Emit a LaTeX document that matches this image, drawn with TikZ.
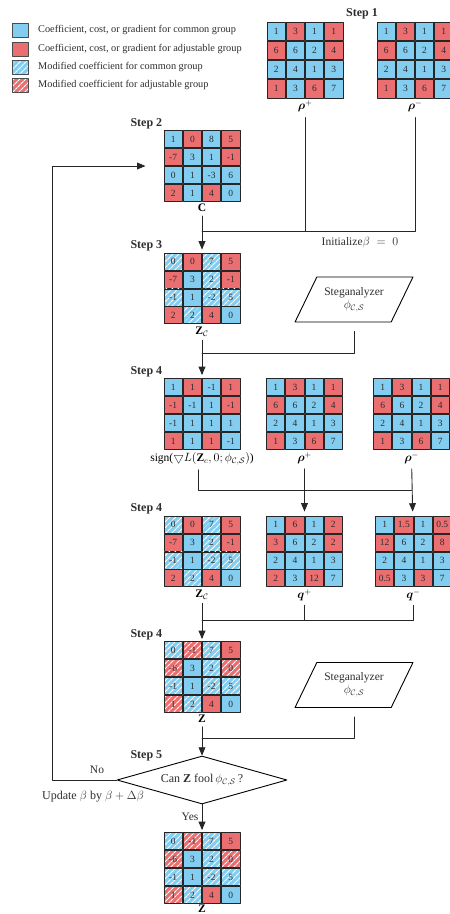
\documentclass[tikz,border=0pt]{standalone}
\usepackage{amsmath,amssymb}
\usepackage{fontspec}
\setmainfont{Liberation Serif}
\usepackage{tikz}
\usetikzlibrary{arrows, matrix, positioning, shapes.geometric, patterns.meta}

\definecolor{cellblue}{RGB}{130,205,240}
\definecolor{cellred}{RGB}{235,110,112}
\definecolor{inkgray}{RGB}{45,45,45}

\newcommand{\cellfont}{\fontsize{9.5}{9.5}\selectfont}
\newcommand{\legfont}{\fontsize{10.3}{11}\selectfont}
\newcommand{\stepfont}{\fontsize{12}{13}\selectfont\bfseries}
\newcommand{\txtfont}{\fontsize{11.5}{13}\selectfont}
\newcommand{\phiCS}{\phi_{\mathcal{C},\mathcal{S}}}

\tikzset{
  mat/.style={matrix of nodes, inner sep=0pt, row sep=0pt, column sep=0pt,
    nodes={draw=black!85, line width=0.9pt, outer sep=0pt, inner sep=0pt, anchor=center,
      text height=6.3pt, text depth=0pt,
      minimum width=18.3pt, minimum height=17pt, fill=cellblue,
      font=\cellfont, text=inkgray},
    row 1 column 2/.style={nodes={fill=cellred}},
    row 1 column 4/.style={nodes={fill=cellred}},
    row 2 column 1/.style={nodes={fill=cellred}},
    row 2 column 4/.style={nodes={fill=cellred}},
    row 4 column 1/.style={nodes={fill=cellred}},
    row 4 column 3/.style={nodes={fill=cellred}}},
  bh/.style={preaction={fill=cellblue},
    pattern={Lines[angle=45,distance=4pt,line width=1.1pt]}, pattern color=white},
  rh/.style={preaction={fill=cellred},
    pattern={Lines[angle=45,distance=4pt,line width=1.1pt]}, pattern color=white},
  legbox/.style={draw=black!70, line width=0.5pt, minimum width=16pt, minimum height=14pt, inner sep=0pt},
  legtext/.style={anchor=west, font=\legfont, text=inkgray, inner sep=0pt},
  steplbl/.style={font=\stepfont, text=inkgray, inner sep=1pt},
  matlbl/.style={font=\fontsize{11.5}{12}\selectfont, inner sep=2pt},
  stego/.style={draw, trapezium, trapezium left angle=58, trapezium right angle=122,
    trapezium stretches=true, minimum width=118pt, minimum height=45pt,
    line width=0.9pt, align=center, font=\txtfont, text=inkgray},
  conn/.style={line width=0.9pt, draw=black!85}
}

\begin{document}
\begin{tikzpicture}[line cap=round,line join=round,>=triangle 45,x=1pt,y=-1pt]
\useasboundingbox (0,0) rectangle (450,914);

% legend
\node[legbox, fill=cellblue] (leg1) at (20,30) {};
\node[legbox, fill=cellred] (leg2) at (20,49) {};
\node[legbox, bh] (leg3) at (20,67) {};
\node[legbox, rh] (leg4) at (20,85) {};
\node[legtext] (legt1) at (38,30) {Coefficient, cost, or gradient for common group};
\node[legtext] (legt2) at (38,49) {Coefficient, cost, or gradient for adjustable group};
\node[legtext] (legt3) at (38,67) {Modified coefficient for common group};
\node[legtext] (legt4) at (38,85) {Modified coefficient for adjustable group};

% step 1
\node[steplbl] (s1) at (362,14) {Step 1};
\matrix[mat, nodes={minimum height=18.3pt}] (rhoP1) at (305,60) {
1 & 3 & 1 & 1 \\
6 & 6 & 2 & 4 \\
2 & 4 & 1 & 3 \\
1 & 3 & 6 & 7 \\
};
\matrix[mat, nodes={minimum height=18.3pt}] (rhoM1) at (415,60) {
1 & 3 & 1 & 1 \\
6 & 6 & 2 & 4 \\
2 & 4 & 1 & 3 \\
1 & 3 & 6 & 7 \\
};
\node[matlbl, below=0pt of rhoP1] (lrhoP1) {$\boldsymbol{\rho}^{+}$};
\node[matlbl, below=0pt of rhoM1] (lrhoM1) {$\boldsymbol{\rho}^{-}$};

% step 2
\matrix[mat] (C) at (202,166) {
1 & 0 & 8 & 5 \\
-7 & 3 & 1 & -1 \\
0 & 1 & -3 & 6 \\
2 & 1 & 4 & 0 \\
};
\node[steplbl, anchor=south east] (s2) at (C.north west) {Step 2};
\node[matlbl, below=0pt of C] (lC) {$\mathbf{C}$};

% step 3
\matrix[mat] (Zc1) at (202,288.5) {
|[bh]|0 & 0 & |[bh]|7 & 5 \\
-7 & 3 & |[bh]|2 & -1 \\
|[bh]|-1 & 1 & |[bh]|-2 & |[bh]|5 \\
2 & |[bh]|2 & 4 & 0 \\
};
\node[steplbl, anchor=south east] (s3) at (Zc1.north west) {Step 3};
\node[matlbl, below=0pt of Zc1] (lZc1) {$\mathbf{Z}_{\mathcal{C}}$};
\node[stego] (st1) at (354,299.5) {Steganalyzer\\$\phiCS$};
\node[font=\txtfont, text=inkgray] (init) at (360,242) {Initialize$\beta\;=\;0$};

% step 4: gradient sign and costs
\matrix[mat] (sgn) at (202,414) {
1 & 1 & -1 & 1 \\
-1 & -1 & 1 & -1 \\
-1 & 1 & 1 & 1 \\
1 & 1 & 1 & -1 \\
};
\matrix[mat] (rhoP2) at (304.5,414) {
1 & 3 & 1 & 1 \\
6 & 6 & 2 & 4 \\
2 & 4 & 1 & 3 \\
1 & 3 & 6 & 7 \\
};
\matrix[mat] (rhoM2) at (411.5,414) {
1 & 3 & 1 & 1 \\
6 & 6 & 2 & 4 \\
2 & 4 & 1 & 3 \\
1 & 3 & 6 & 7 \\
};
\node[steplbl, anchor=south east] (s4a) at (sgn.north west) {Step 4};
\node[matlbl, below=0pt of sgn] (lsgn) {sign($\bigtriangledown L(\mathbf{Z}_c, 0; \phiCS)$)};
\node[matlbl, below=0pt of rhoP2] (lrhoP2) {$\boldsymbol{\rho}^{+}$};
\node[matlbl, below=0pt of rhoM2] (lrhoM2) {$\boldsymbol{\rho}^{-}$};

% step 4: adjusted costs
\matrix[mat] (Zc2) at (202,551.5) {
|[bh]|0 & 0 & |[bh]|7 & 5 \\
-7 & 3 & |[bh]|2 & -1 \\
|[bh]|-1 & 1 & |[bh]|-2 & |[bh]|5 \\
2 & |[bh]|2 & 4 & 0 \\
};
\matrix[mat] (qP) at (304.5,551.5) {
1 & 6 & 1 & 2 \\
3 & 6 & 2 & 2 \\
2 & 4 & 1 & 3 \\
2 & 3 & 12 & 7 \\
};
\matrix[mat] (qM) at (413.5,551.5) {
1 & 1.5 & 1 & 0.5 \\
12 & 6 & 2 & 8 \\
2 & 4 & 1 & 3 \\
0.5 & 3 & 3 & 7 \\
};
\node[steplbl, anchor=south east] (s4b) at (Zc2.north west) {Step 4};
\node[matlbl, below=0pt of Zc2] (lZc2) {$\mathbf{Z}_{\mathcal{C}}$};
\node[matlbl, below=0pt of qP] (lqP) {$\boldsymbol{q}^{+}$};
\node[matlbl, below=0pt of qM] (lqM) {$\boldsymbol{q}^{-}$};

% step 4: stego
\matrix[mat] (Z1) at (202,677) {
|[bh]|0 & |[rh]|-1 & |[bh]|7 & 5 \\
|[rh]|-6 & 3 & |[bh]|2 & |[rh]|0 \\
|[bh]|-1 & 1 & |[bh]|-2 & |[bh]|5 \\
|[rh]|1 & |[bh]|2 & 4 & 0 \\
};
\node[steplbl, anchor=south east] (s4c) at (Z1.north west) {Step 4};
\node[matlbl, below=0pt of Z1] (lZ1) {$\mathbf{Z}$};
\node[stego] (st2) at (354,685) {Steganalyzer\\$\phiCS$};

% step 5
\node[draw, diamond, aspect=3.5, minimum width=170pt, minimum height=48pt, inner sep=0pt,
  line width=0.9pt, font=\fontsize{12}{13}\selectfont, text=inkgray] (dec) at (202,780)
  {Can $\mathbf{Z}$ fool\,$\phiCS$\,?};
\node[steplbl, anchor=east] (s5) at (dec.north -| Z1.west) {Step 5};
\node[font=\txtfont, text=inkgray] (no) at (97,770) {No};
\node[font=\fontsize{12}{13}\selectfont, text=inkgray] (upd) at (93,797) {Update $\beta$ by $\beta+\Delta\beta$};
\node[font=\txtfont, text=inkgray] (yes) at (190,817) {Yes};

\matrix[mat] (Z2) at (202,868) {
|[bh]|0 & |[rh]|-1 & |[bh]|7 & 5 \\
|[rh]|-6 & 3 & |[bh]|2 & |[rh]|0 \\
|[bh]|-1 & 1 & |[bh]|-2 & |[bh]|5 \\
|[rh]|1 & |[bh]|2 & 4 & 0 \\
};
\node[matlbl, below=0pt of Z2, inner sep=1pt] (lZ2) {$\mathbf{Z}$};

% connectors
\coordinate (j1) at (202,231);
\coordinate (j2) at (202,353);
\coordinate (j3) at (198,490);
\coordinate (j4) at (202,620);
\coordinate (j5) at (202,738);
\coordinate (back) at (52,780);

\draw[conn, shorten <=3pt] (lrhoP1) -- (lrhoP1 |- j1);
\draw[conn, shorten <=3pt] (lrhoM1) |- (j1);
\draw[conn, ->, shorten <=2pt, shorten >=3pt] (lC) -- (Zc1);

\draw[conn, shorten <=9pt] (st1.center |- st1.south) |- (j2);
\draw[conn, ->, shorten <=2pt, shorten >=3pt] (lZc1) -- (sgn);

\draw[conn, shorten <=3pt] (lsgn.south -| j3) |- (lrhoM2 |- j3);
\draw[conn, ->, shorten <=3pt, shorten >=4pt] (lrhoP2) -- (qP);
\draw[conn, ->, shorten <=3pt, shorten >=4pt] (lrhoM2) -- (qM);

\draw[conn, shorten <=2pt] (lqP) -- (lqP |- j4);
\draw[conn, shorten <=2pt] (lqM) |- (j4);
\draw[conn, ->, shorten <=2pt, shorten >=2pt] (lZc2) -- (Z1);

\draw[conn, shorten <=9pt] (st2.center |- st2.south) |- (j5);
\draw[conn, ->, shorten <=2pt] (lZ1) -- (dec);

\draw[conn, ->, shorten >=18pt] (dec.west) -- (back) |- (C.west);
\draw[conn, ->, shorten >=2pt] (dec.south) -- (Z2);
\end{tikzpicture}
\end{document}
